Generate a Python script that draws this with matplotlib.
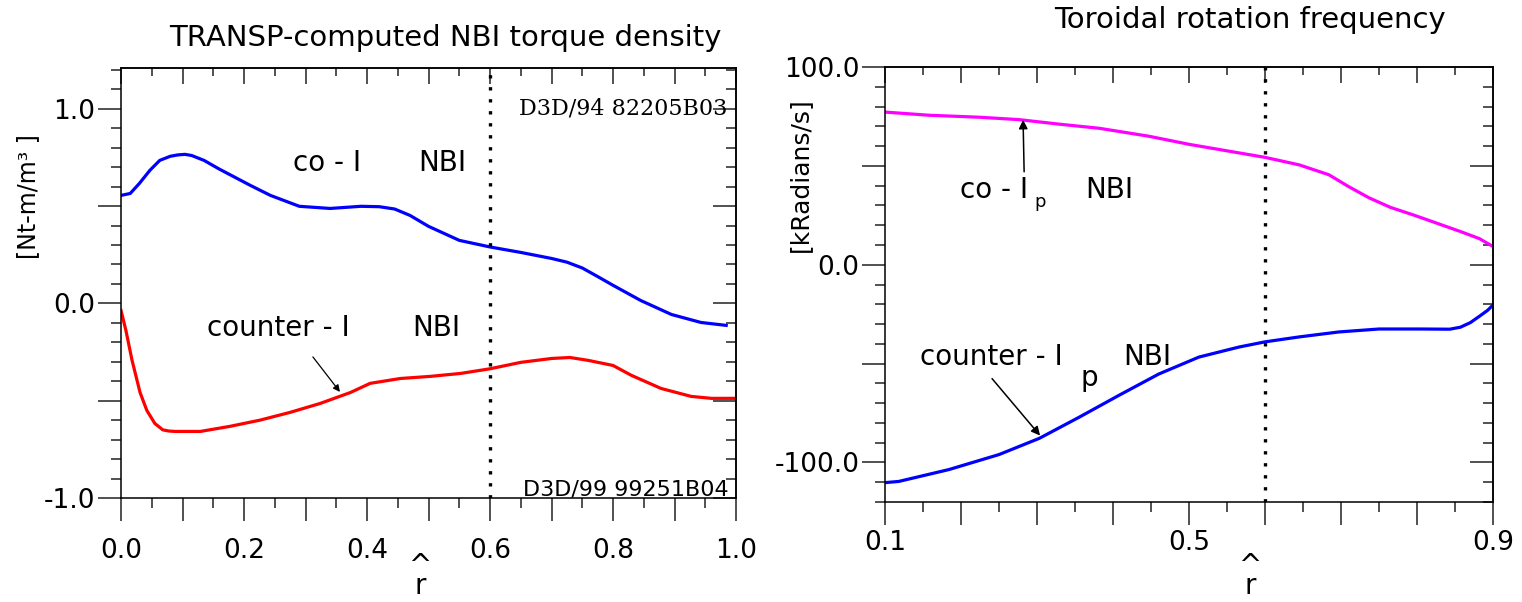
import matplotlib
matplotlib.use("Agg")
import matplotlib.pyplot as plt
from matplotlib.ticker import MultipleLocator, FuncFormatter

plt.rcParams['font.family'] = ['DejaVu Sans']

# ---- NBI torque density (TRANSP) vs normalised radius ----
r_torque_co = [0.0, 0.015, 0.03, 0.047, 0.063, 0.08, 0.092, 0.104, 0.115, 0.135,
               0.16, 0.21, 0.243, 0.29, 0.34, 0.39, 0.42, 0.445, 0.47, 0.50,
               0.55, 0.60, 0.65, 0.70, 0.725, 0.75, 0.775, 0.80, 0.845, 0.895,
               0.943, 0.984]
torque_co = [0.555, 0.565, 0.617, 0.684, 0.735, 0.756, 0.763, 0.766, 0.760, 0.735,
             0.690, 0.607, 0.555, 0.499, 0.488, 0.499, 0.497, 0.485, 0.452, 0.396,
             0.324, 0.290, 0.262, 0.231, 0.212, 0.182, 0.138, 0.093, 0.015, -0.057,
             -0.098, -0.113]

r_torque_ctr = [0.0, 0.008, 0.018, 0.031, 0.042, 0.055, 0.068, 0.078, 0.088, 0.129,
                0.177, 0.226, 0.275, 0.324, 0.373, 0.405, 0.454, 0.503, 0.552, 0.60,
                0.65, 0.70, 0.73, 0.76, 0.80, 0.83, 0.878, 0.927, 0.96, 1.0]
torque_ctr = [-0.036, -0.139, -0.293, -0.458, -0.55, -0.617, -0.650, -0.656, -0.658, -0.658,
              -0.632, -0.60, -0.56, -0.514, -0.458, -0.411, -0.386, -0.375, -0.36, -0.336,
              -0.303, -0.283, -0.278, -0.293, -0.319, -0.37, -0.437, -0.478, -0.488, -0.488]

# ---- toroidal rotation frequency vs normalised radius ----
r_rot_co = [0.1, 0.158, 0.224, 0.276, 0.329, 0.382, 0.447, 0.5, 0.553, 0.6,
            0.645, 0.684, 0.71, 0.737, 0.765, 0.795, 0.857, 0.882, 0.9]
omega_co = [77.2, 75.6, 74.6, 73.4, 71.1, 69.0, 65.0, 60.9, 57.4, 54.3,
            50.5, 45.5, 39.5, 33.8, 29.0, 25.2, 16.8, 13.2, 9.2]

r_rot_ctr = [0.1, 0.118, 0.184, 0.25, 0.303, 0.355, 0.408, 0.46, 0.513, 0.566,
             0.6, 0.645, 0.697, 0.75, 0.803, 0.843, 0.857, 0.87, 0.883, 0.893, 0.9]
omega_ctr = [-110.2, -109.6, -103.6, -96.0, -87.8, -77.2, -66.0, -55.3, -46.7, -41.6,
             -39.0, -36.5, -34.0, -32.5, -32.5, -32.6, -31.6, -29.3, -25.8, -23.0, -20.3]

q_surface = 0.6   # dotted reference radius

FS = 19            # tick labels
FA = 20            # curve annotations
FT = 21            # panel titles
MAJ, MIN = 16.5, 7.0       # outward tick lengths (pt)
IMAJ, IMIN = 11.5, 6.0     # inward tick lengths (pt)
TICK_C = '#222222'

fig = plt.figure(figsize=(15.22, 6.02), dpi=100)
ax1 = fig.add_axes([0.0795, 0.1728, 0.4041, 0.7143])
ax2 = fig.add_axes([0.5815, 0.1661, 0.3995, 0.7226])


def style_axes(ax, xmaj, xmin, ymaj, ymin, xfmt, yfmt, xpad):
    for s in ax.spines.values():
        s.set_linewidth(1.1)
        s.set_color('black')
    ax.xaxis.set_major_locator(MultipleLocator(xmaj))
    ax.xaxis.set_minor_locator(MultipleLocator(xmin))
    ax.yaxis.set_major_locator(MultipleLocator(ymaj))
    ax.yaxis.set_minor_locator(MultipleLocator(ymin))
    ax.xaxis.set_major_formatter(FuncFormatter(xfmt))
    ax.yaxis.set_major_formatter(FuncFormatter(yfmt))
    ax.tick_params(axis='both', which='major', direction='out', length=MAJ,
                   width=1.1, color=TICK_C, labelsize=FS)
    ax.tick_params(axis='both', which='minor', direction='out', length=MIN,
                   width=1.1, color=TICK_C)
    ax.tick_params(axis='x', which='major', pad=xpad)
    ax.tick_params(axis='y', which='major', pad=2)

    top = ax.secondary_xaxis('top')
    top.xaxis.set_major_locator(MultipleLocator(xmaj))
    top.xaxis.set_minor_locator(MultipleLocator(xmin))
    top.tick_params(which='major', direction='in', length=IMAJ, width=1.1,
                    color=TICK_C, labeltop=False)
    top.tick_params(which='minor', direction='in', length=IMIN, width=1.1,
                    color=TICK_C)
    right = ax.secondary_yaxis('right')
    right.yaxis.set_major_locator(MultipleLocator(ymaj))
    right.yaxis.set_minor_locator(MultipleLocator(ymin))
    right.tick_params(which='major', direction='in', length=MAJ, width=1.1,
                      color=TICK_C, labelright=False)
    right.tick_params(which='minor', direction='in', length=MIN, width=1.1,
                      color=TICK_C)
    for sec in (top, right):
        for s in sec.spines.values():
            s.set_linewidth(1.1)


def rhat(x_px):
    # stacked caret over r as the radial-coordinate axis label
    fig.text(x_px / 1522, 1 - 576 / 602, "^\nr", fontsize=FA, ha='center',
             va='center', linespacing=0.6, multialignment='center')


# ---------------- left panel: torque density ----------------
ax1.plot(r_torque_co, torque_co, color='#0000ff', lw=2.3,
         solid_joinstyle='round')
ax1.plot(r_torque_ctr, torque_ctr, color='#ff0000', lw=2.3,
         solid_joinstyle='round')
ax1.axvline(q_surface, color='black', lw=2.4, linestyle=(0, (1, 2.6)))
ax1.set_xlim(0.0, 1.0)
ax1.set_ylim(-1.0, 1.21)
style_axes(ax1, 0.1, 0.05, 0.5, 0.1,
           lambda v, p: f"{v:.1f}" if round(v * 10) % 2 == 0 else "",
           lambda v, p: f"{v:.1f}" if abs(v - round(v)) < 1e-6 else "",
           xpad=12)

ax1.text(0.28, 0.72, "co - I", fontsize=FA, va='center', ha='left')
ax1.text(0.483, 0.72, "NBI", fontsize=FA, va='center', ha='left')
ax1.text(0.14, -0.126, "counter - I", fontsize=FA, va='center', ha='left')
ax1.text(0.473, -0.126, "NBI", fontsize=FA, va='center', ha='left')
ax1.annotate("", xy=(0.356, -0.455), xytext=(0.312, -0.275),
             arrowprops=dict(arrowstyle='-|>', color='black', lw=0.9,
                             mutation_scale=10, shrinkA=0, shrinkB=0))
ax1.text(0.986, 1.0, "D3D/94 82205B03", family='DejaVu Serif', fontsize=16,
         va='center', ha='right')
ax1.text(0.988, -0.955, "D3D/99 99251B04", family='DejaVu Sans', fontsize=16,
         va='center', ha='right')

ax1.text(-0.151, 0.702, "[Nt-m/m³ ]", transform=ax1.transAxes, rotation=90,
         fontsize=17, va='center', ha='center')
fig.text(445 / 1522, 1 - 38 / 602, "TRANSP-computed NBI torque density",
         fontsize=FT, ha='center', va='center')
rhat(420)

# ---------------- right panel: rotation frequency ----------------
ax2.plot(r_rot_co, omega_co, color='#ff00ff', lw=2.3, solid_joinstyle='round')
ax2.plot(r_rot_ctr, omega_ctr, color='#0000ff', lw=2.3, solid_joinstyle='round')
ax2.axvline(q_surface, color='black', lw=2.4, linestyle=(0, (1, 2.6)))
ax2.set_xlim(0.1, 0.9)
ax2.set_ylim(-120, 100)
style_axes(ax2, 0.1, 0.05, 50, 10,
           lambda v, p: f"{v:.1f}" if round(v * 10) in (1, 5, 9) else "",
           lambda v, p: f"{v:.1f}" if round(v) % 100 == 0 else "",
           xpad=4)

ax2.text(0.199, 37.9, "co - I", fontsize=FA, va='center', ha='left')
ax2.text(0.296, 31.5, "p", fontsize=13, va='center', ha='left')
ax2.text(0.363, 37.9, "NBI", fontsize=FA, va='center', ha='left')
ax2.annotate("", xy=(0.2816, 73.3), xytext=(0.283, 47.0),
             arrowprops=dict(arrowstyle='-|>', color='black', lw=1.1,
                             mutation_scale=13, shrinkA=0, shrinkB=0))
ax2.text(0.146, -46.5, "counter - I", fontsize=FA, va='center', ha='left')
ax2.text(0.357, -57.1, "p", fontsize=FA, va='center', ha='left')
ax2.text(0.413, -46.5, "NBI", fontsize=FA, va='center', ha='left')
ax2.annotate("", xy=(0.304, -86.4), xytext=(0.2408, -57.6),
             arrowprops=dict(arrowstyle='-|>', color='black', lw=1.1,
                             mutation_scale=13, shrinkA=0, shrinkB=0))

ax2.text(-0.14, 0.752, "[kRadians/s]", transform=ax2.transAxes, rotation=90,
         fontsize=18, va='center', ha='center')
fig.text(1250 / 1522, 1 - 20 / 602, "Toroidal rotation frequency",
         fontsize=FT, ha='center', va='center')
rhat(1250)

fig.savefig("out.png", dpi=100)
